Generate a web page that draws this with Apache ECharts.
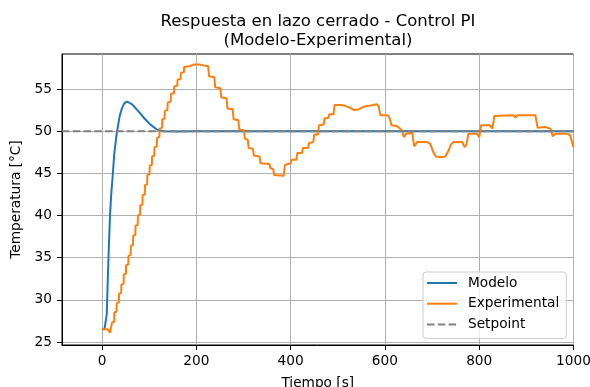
<!DOCTYPE html>
<html>
<head>
<meta charset="utf-8">
<script src="https://cdn.jsdelivr.net/npm/echarts@6/dist/echarts.min.js"></script>
<style>
  html, body { margin: 0; padding: 0; background: #fff; }
  #chart { width: 590px; height: 387px; }
</style>
</head>
<body>
<div id="chart"></div>
<script>
// Closed-loop PI response: simulated model vs. measured temperature
const xTicks = [0, 200, 400, 600, 800, 1000];
const yTicks = [25, 30, 35, 40, 45, 50, 55];
const xMin = -85, xMax = 1000;
const yMin = 24.64, yMax = 59.15;
const setpoint = 50;

// Model response [time s, temperature °C]
const modelo = [
  [0, 26.5], [5, 26.5], [8, 26.7], [10, 28.3], [12, 32.3], [14.5, 36.5], [17, 40.2],
  [19.5, 42.6], [22, 44.3], [26, 47.4], [31, 49.7], [37, 51.7], [42, 52.7], [47, 53.3],
  [52, 53.5], [57, 53.4], [63, 53.2], [70, 52.8], [81, 52.1], [90, 51.5], [102, 50.8],
  [116, 50.2], [130, 50.0], [160, 49.97], [200, 50.0], [1000, 50.0]
];

// Measured response [time s, temperature °C]
const experimental = [
  [0, 26.5], [12, 26.5], [14, 26.3], [17, 26.1], [19, 26.0], [21, 27.3], [25.6, 27.4], [26, 28.5],
  [30.6, 28.6], [31, 29.6], [35.6, 29.7], [36, 30.7], [40.6, 30.8], [41, 31.8], [45.6, 31.9], [46, 33.0],
  [50.6, 33.1], [51, 34.1], [55.6, 34.2], [56, 35.2], [60.6, 35.3], [61, 36.4], [65.6, 36.5], [66, 37.6],
  [70.6, 37.7], [71, 38.8], [75.6, 38.9], [76, 40.0], [80.6, 40.1], [81, 41.2], [85.6, 41.3], [86, 42.4],
  [90.6, 42.5], [91, 43.6], [95.6, 43.7], [96, 44.8], [100.6, 44.9], [101, 45.9], [105.6, 46.0], [106, 47.0],
  [110.6, 47.1], [111, 48.1], [116.2, 48.2], [116.6, 49.2], [121.6, 49.3], [122, 50.3], [127.2, 50.4], [127.6, 51.4],
  [132.6, 51.5], [133, 52.4], [138.6, 52.5], [139, 53.4], [145.6, 53.5], [146, 54.4], [152.6, 54.5], [153, 55.3],
  [159.6, 55.4], [160, 56.1], [166.6, 56.2], [167, 56.9], [173.6, 57.0], [174, 57.6], [185, 57.7], [195, 57.9],
  [205, 57.9], [215, 57.8], [225, 57.7], [227, 56.5], [238, 56.4], [240, 55.2], [251, 55.1], [253, 54.0],
  [264, 53.9], [266, 52.7], [277, 52.6], [279, 51.4], [289, 51.3], [291, 50.2], [301, 50.1], [303, 49.1],
  [309, 49.0], [311, 48.0], [320, 47.9], [322, 47.1], [334, 47.0], [336, 46.2], [355, 46.1], [357, 45.6],
  [363, 45.5], [365, 44.8], [385, 44.7], [388, 46.0], [400, 46.2], [402, 46.6], [412, 46.6], [414, 47.4],
  [424, 47.4], [426, 48.0], [437, 48.0], [439, 48.6], [448, 48.7], [450, 49.6], [458, 49.6], [460, 50.7],
  [470, 50.8], [472, 51.5], [480, 51.6], [482, 52.0], [491, 52.0], [493, 53.1], [505, 53.1], [515, 53.0],
  [525, 52.8], [535, 52.5], [545, 52.6], [555, 52.9], [565, 53.0], [583, 53.2], [587, 52.9], [590, 51.9],
  [606, 51.9], [610, 51.5], [614, 50.7], [625, 50.6], [630, 50.4], [636, 50.1], [640, 49.3], [645, 49.7],
  [658, 49.8], [662, 48.2], [668, 48.7], [690, 48.7], [696, 48.5], [702, 47.6], [708, 47.0], [720, 46.9],
  [728, 47.0], [734, 47.6], [740, 48.4], [745, 48.7], [764, 48.7], [769, 48.1], [773, 48.4], [777, 49.7],
  [795, 49.7], [800, 49.3], [804, 50.7], [822, 50.7], [828, 50.3], [832, 51.8], [873, 51.9], [877, 51.6],
  [881, 51.9], [919, 51.9], [924, 50.4], [940, 50.5], [951, 50.3], [956, 49.4], [962, 49.7], [987, 49.7],
  [993, 49.5], [1000, 48.1]
];

const FONT = 'DejaVu Sans';
const chart = echarts.init(document.getElementById('chart'), null, { renderer: 'canvas' });

chart.setOption({
  animation: false,
  backgroundColor: '#ffffff',
  title: {
    text: 'Respuesta en lazo cerrado - Control PI\n(Modelo-Experimental)',
    left: 318,
    textAlign: 'center',
    top: 12,
    padding: 0,
    textStyle: { fontFamily: FONT, fontSize: 16.5, fontWeight: 'normal', color: '#000', lineHeight: 19 }
  },
  grid: {
    left: 62, right: 16.5, top: 54, bottom: 42,
    outerBoundsMode: 'none',
    containLabel: false,
    show: true, borderColor: '#000', borderWidth: 1, backgroundColor: 'transparent'
  },
  legend: {
    orient: 'vertical',
    left: 423, top: 272,
    padding: [4, 7, 7, 3],
    itemWidth: 30, itemHeight: 14, itemGap: 6.7,
    itemStyle: { opacity: 0 },
    backgroundColor: 'rgba(255,255,255,0.8)',
    borderColor: '#cccccc', borderWidth: 1, borderRadius: 3,
    textStyle: { fontFamily: FONT, fontSize: 13.7, color: '#000', padding: [0, 0, 0, 6] },
    data: ['Modelo', 'Experimental', 'Setpoint']
  },
  xAxis: {
    type: 'value', min: xMin, max: xMax,
    name: 'Tiempo [s]', nameLocation: 'middle', nameGap: 31,
    nameTextStyle: { fontFamily: FONT, fontSize: 13.7, color: '#000' },
    axisLine: { show: true, onZero: false, lineStyle: { color: '#000', width: 1 } },
    axisTick: { show: true, inside: false, length: 5, customValues: xTicks, lineStyle: { color: '#000' } },
    axisLabel: {
      customValues: xTicks, margin: 9, fontFamily: FONT, fontSize: 13.7, color: '#000',
      formatter: v => String(v)
    },
    splitLine: { show: true, lineStyle: { color: '#b0b0b0', width: 1 } }
  },
  yAxis: {
    type: 'value', min: yMin, max: yMax,
    name: 'Temperatura [°C]', nameLocation: 'middle', nameGap: 35, nameRotate: 90,
    nameTextStyle: { fontFamily: FONT, fontSize: 13.7, color: '#000' },
    axisLine: { show: true, onZero: false, lineStyle: { color: '#000', width: 1 } },
    axisTick: { show: true, inside: false, length: 5, customValues: yTicks, lineStyle: { color: '#000' } },
    axisLabel: {
      customValues: yTicks, margin: 10, fontFamily: FONT, fontSize: 13.7, color: '#000',
      formatter: v => String(v)
    },
    splitLine: { show: true, lineStyle: { color: '#b0b0b0', width: 1 } }
  },
  series: [
    {
      name: 'Modelo', type: 'line', data: modelo,
      symbol: 'none', showSymbol: false,
      lineStyle: { color: '#1f77b4', width: 2 }, itemStyle: { color: '#1f77b4' }, z: 2
    },
    {
      name: 'Experimental', type: 'line', data: experimental,
      symbol: 'none', showSymbol: false,
      lineStyle: { color: '#ff7f0e', width: 2 }, itemStyle: { color: '#ff7f0e' }, z: 3
    },
    {
      name: 'Setpoint', type: 'line', data: [[xMin, setpoint], [xMax, setpoint]],
      symbol: 'none', showSymbol: false,
      lineStyle: { color: '#808080', width: 2, type: [7.5, 3.3] }, itemStyle: { color: '#808080' }, z: 4
    }
  ]
});
</script>
</body>
</html>
